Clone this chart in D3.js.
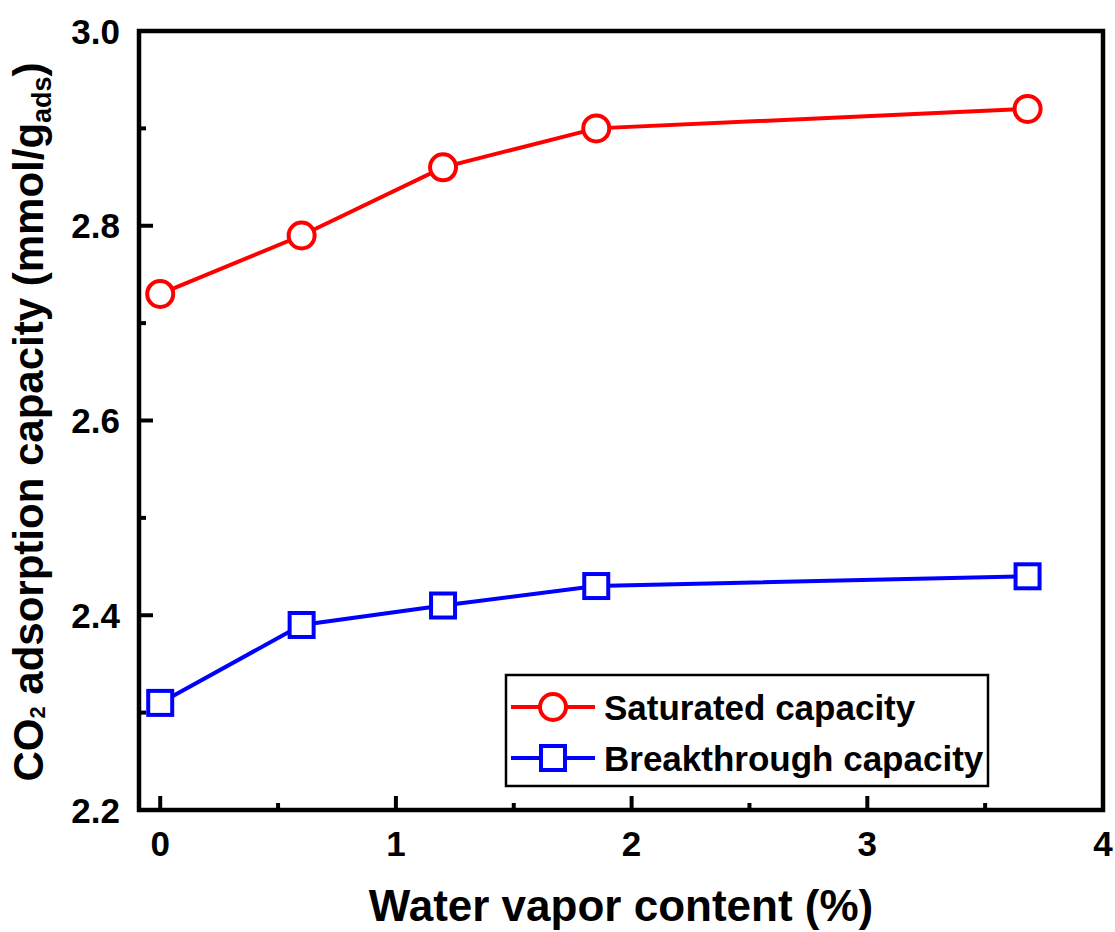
<!DOCTYPE html>
<html><head><meta charset="utf-8">
<script src="https://cdn.jsdelivr.net/npm/d3@7"></script>
<style>body{margin:0;background:#fff}svg{display:block}</style>
</head><body>
<svg id="c" width="1115" height="932"></svg>
<script>
const waterContent = [0, 0.6, 1.2, 1.85, 3.68];
const saturated = [2.73, 2.79, 2.86, 2.90, 2.92];
const breakthrough = [2.31, 2.39, 2.41, 2.43, 2.44];
const xTicks = [0, 1, 2, 3, 4];
const yTicks = [2.2, 2.4, 2.6, 2.8, 3.0];
const seriesNames = ["Saturated capacity", "Breakthrough capacity"];

const svg = d3.select("#c");
const font = "Arial, 'Liberation Sans', sans-serif";
const L = 139, R = 1103, T = 31, B = 810;
const x = d3.scaleLinear().domain([-0.09, 4]).range([L, R]);
const y = d3.scaleLinear().domain([2.2, 3.0]).range([B, T]);

// minor ticks
const xMinor = d3.range(0.5, 4, 1);
const yMinor = d3.range(2.3, 3.0, 0.2);
const g = svg.append("g");
g.selectAll(".xmaj").data(xTicks).join("line")
  .attr("x1", d => x(d)).attr("x2", d => x(d)).attr("y1", B).attr("y2", B - 14)
  .attr("stroke", "#000").attr("stroke-width", 4);
g.selectAll(".xmin").data(xMinor).join("line")
  .attr("x1", d => x(d)).attr("x2", d => x(d)).attr("y1", B).attr("y2", B - 7)
  .attr("stroke", "#000").attr("stroke-width", 4);
g.selectAll(".ymaj").data(yTicks).join("line")
  .attr("y1", d => y(d)).attr("y2", d => y(d)).attr("x1", L).attr("x2", L + 14)
  .attr("stroke", "#000").attr("stroke-width", 4);
g.selectAll(".ymin").data(yMinor).join("line")
  .attr("y1", d => y(d)).attr("y2", d => y(d)).attr("x1", L).attr("x2", L + 7)
  .attr("stroke", "#000").attr("stroke-width", 4);

// frame
svg.append("rect").attr("x", L).attr("y", T).attr("width", R - L).attr("height", B - T)
  .attr("fill", "none").attr("stroke", "#000").attr("stroke-width", 4.5);

// tick labels
svg.selectAll(".xl").data(xTicks).join("text")
  .attr("x", d => x(d)).attr("y", 856).attr("text-anchor", "middle")
  .attr("font-family", font).attr("font-weight", "bold").attr("font-size", 35)
  .text(d => d3.format("d")(d));
svg.selectAll(".yl").data(yTicks).join("text")
  .attr("x", 120).attr("y", d => y(d) + 12.5).attr("text-anchor", "end")
  .attr("font-family", font).attr("font-weight", "bold").attr("font-size", 35)
  .text(d => d3.format(".1f")(d));

// axis titles
svg.append("text").attr("x", 621).attr("y", 921).attr("text-anchor", "middle")
  .attr("font-family", font).attr("font-weight", "bold").attr("font-size", 44)
  .text("Water vapor content (%)");
const yt = svg.append("text").attr("transform", "translate(43,422) rotate(-90)")
  .attr("text-anchor", "middle")
  .attr("font-family", font).attr("font-weight", "bold").attr("font-size", 42);
yt.append("tspan").text("CO");
yt.append("tspan").attr("font-size", 22).attr("dy", 2).text("2");
yt.append("tspan").attr("dy", -2).text(" adsorption capacity (mmol/g");
yt.append("tspan").attr("font-size", 27).attr("dy", 8).text("ads");
yt.append("tspan").attr("dy", -8).text(")");

// series
const line = d3.line().x(d => x(d[0])).y(d => y(d[1]));
const dataR = waterContent.map((v, i) => [v, saturated[i]]);
const dataB = waterContent.map((v, i) => [v, breakthrough[i]]);
svg.append("path").datum(dataR).attr("d", line).attr("fill", "none").attr("stroke", "#ff0000").attr("stroke-width", 4);
svg.append("path").datum(dataB).attr("d", line).attr("fill", "none").attr("stroke", "#0000ff").attr("stroke-width", 4);
svg.selectAll(".cr").data(dataR).join("circle")
  .attr("cx", d => x(d[0])).attr("cy", d => y(d[1])).attr("r", 13)
  .attr("fill", "#fff").attr("stroke", "#ff0000").attr("stroke-width", 4);
svg.selectAll(".sq").data(dataB).join("rect")
  .attr("x", d => x(d[0]) - 12).attr("y", d => y(d[1]) - 12).attr("width", 24).attr("height", 24)
  .attr("fill", "#fff").attr("stroke", "#0000ff").attr("stroke-width", 4);

// legend
const lg = svg.append("g");
lg.append("rect").attr("x", 506).attr("y", 675).attr("width", 482).attr("height", 111)
  .attr("fill", "#fff").attr("stroke", "#000").attr("stroke-width", 2.5);
const rows = [{name: seriesNames[0], c: "#ff0000", y: 707, shape: "c"}, {name: seriesNames[1], c: "#0000ff", y: 758, shape: "s"}];
rows.forEach(r => {
  lg.append("line").attr("x1", 511).attr("x2", 595).attr("y1", r.y).attr("y2", r.y).attr("stroke", r.c).attr("stroke-width", 4);
  if (r.shape === "c") lg.append("circle").attr("cx", 553).attr("cy", r.y).attr("r", 13).attr("fill", "#fff").attr("stroke", r.c).attr("stroke-width", 4);
  else lg.append("rect").attr("x", 541).attr("y", r.y - 12).attr("width", 24).attr("height", 24).attr("fill", "#fff").attr("stroke", r.c).attr("stroke-width", 4);
  lg.append("text").attr("x", 604).attr("y", r.y + 12.5).attr("font-family", font).attr("font-weight", "bold").attr("font-size", 35).text(r.name);
});
</script>
</body></html>
